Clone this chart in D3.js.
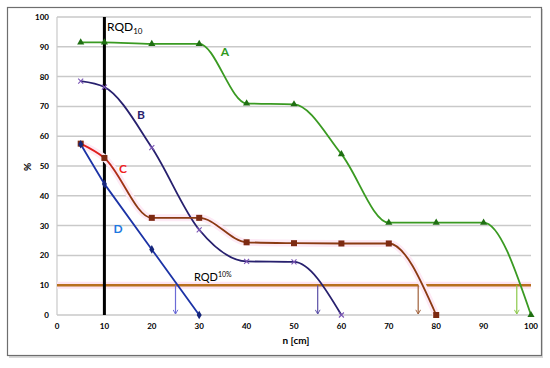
<!doctype html>
<html>
<head>
<style>
  body { margin: 0; background: #fff; }
  text { font-family: Lato, "Open Sans", sans-serif; }
</style>
<script src="https://d3js.org/d3.v7.min.js"></script>
</head>
<body>
<div id="chart"></div>
<script>
// data
var nA = [5, 10, 20, 30, 40, 50, 60, 70, 80, 90, 100];
var valA = [91.5, 91.5, 91, 91, 71, 70.7, 54, 31, 31, 31, 0];
var nB = [5, 10, 20, 30, 40, 50, 60];
var valB = [78.5, 76.5, 56.2, 28.6, 18, 17.8, 0];
var nC = [5, 10, 20, 30, 40, 50, 60, 70, 80];
var valC = [57.5, 52.7, 32.6, 32.6, 24.4, 24.1, 24, 24, 0];
var nD = [5, 10, 20, 30];
var valD = [57.3, 44, 22, 0];
var xTicks = [0, 10, 20, 30, 40, 50, 60, 70, 80, 90, 100];
var yTicks = [0, 10, 20, 30, 40, 50, 60, 70, 80, 90, 100];
var rqdLine = 10;        // vertical RQD10 line at n = 10
var threshold = 10;      // RQD 10% horizontal line
var crossings = [25, 55, 76.2, 97];

var W = 550, H = 368;
var svg = d3.select("#chart").append("svg")
    .attr("width", W)
    .attr("height", H);

// outer frame with slight shadow
svg.append("rect")
    .attr("x", 9).attr("y", 9).attr("width", 534).attr("height", 349)
    .attr("fill", "#d8d8d8");
svg.append("rect")
    .attr("x", 7.5).attr("y", 7.5).attr("width", 534).attr("height", 348)
    .attr("fill", "#fff").attr("stroke", "#6e6e6e").attr("stroke-width", 1.2);

var x = d3.scaleLinear().domain([0, 100]).range([57, 531]);
var y = d3.scaleLinear().domain([0, 100]).range([315, 17]);

var defs = svg.append("defs");
function arrowMarker(id, color) {
    defs.append("marker")
        .attr("id", id)
        .attr("viewBox", "0 0 10 10")
        .attr("refX", 9).attr("refY", 5)
        .attr("markerWidth", 6).attr("markerHeight", 6)
        .attr("markerUnits", "userSpaceOnUse")
        .attr("orient", "auto")
        .append("path")
        .attr("d", "M2,1 L9,5 L2,9")
        .attr("fill", "none")
        .attr("stroke", color)
        .attr("stroke-width", 1.6);
}
var grad = defs.append("linearGradient")
    .attr("id", "gradC")
    .attr("gradientUnits", "userSpaceOnUse")
    .attr("x1", x(8)).attr("x2", x(16)).attr("y1", 0).attr("y2", 0);
grad.append("stop").attr("offset", "0").attr("stop-color", "#e31d1d");
grad.append("stop").attr("offset", "1").attr("stop-color", "#8a3a12");

// gridlines
svg.append("g")
    .selectAll("line")
    .data(yTicks)
    .join("line")
    .attr("x1", x(0)).attr("x2", x(100))
    .attr("y1", d => y(d)).attr("y2", d => y(d))
    .attr("stroke", "#c9c9c9")
    .attr("stroke-width", 1.5);
svg.append("line")
    .attr("x1", x(0)).attr("x2", x(0))
    .attr("y1", y(0)).attr("y2", y(100))
    .attr("stroke", "#c9c9c9").attr("stroke-width", 1.2);

// tick labels
svg.append("g")
    .selectAll("text")
    .data(yTicks)
    .join("text")
    .attr("x", 49)
    .attr("y", d => y(d) + 3)
    .attr("text-anchor", "end")
    .attr("font-size", "8px")
    .attr("font-weight", "bold")
    .text(d => d);
svg.append("g")
    .selectAll("text")
    .data(xTicks)
    .join("text")
    .attr("x", d => x(d))
    .attr("y", 329)
    .attr("text-anchor", "middle")
    .attr("font-size", "8px")
    .attr("font-weight", "bold")
    .text(d => d);

svg.append("text")
    .attr("transform", "translate(31, 167) rotate(-90)")
    .attr("text-anchor", "middle")
    .attr("font-size", "10px")
    .attr("font-weight", "bold")
    .text("%");
svg.append("text")
    .attr("x", 296).attr("y", 344)
    .attr("text-anchor", "middle")
    .attr("font-size", "10px")
    .attr("font-weight", "bold")
    .text("n [cm]");

// RQD 10% horizontal line with pink glow
svg.append("line")
    .attr("x1", x(0)).attr("x2", x(100))
    .attr("y1", y(threshold)).attr("y2", y(threshold))
    .attr("stroke", "#fde4f3").attr("stroke-width", 7);
svg.append("line")
    .attr("x1", x(0)).attr("x2", x(100))
    .attr("y1", y(threshold)).attr("y2", y(threshold))
    .attr("stroke", "#b8701e").attr("stroke-width", 2.6);

// vertical RQD10 line
svg.append("line")
    .attr("x1", x(rqdLine)).attr("x2", x(rqdLine))
    .attr("y1", y(100)).attr("y2", y(0))
    .attr("stroke", "#000").attr("stroke-width", 3);

var rqdLabel = svg.append("text")
    .attr("x", 107).attr("y", 31)
    .attr("font-size", "12px");
rqdLabel.append("tspan").text("RQD");
rqdLabel.append("tspan").attr("font-size", "8px").attr("dy", 3).text("10");

var rqd2 = svg.append("text")
    .attr("x", 194).attr("y", 281)
    .attr("font-size", "11px");
rqd2.append("tspan").text("RQD");
rqd2.append("tspan").attr("font-size", "7px").attr("dy", -4).text("10%");

// arrows from threshold down to axis
var arrowColors = ["#6b6bd6", "#5a4fa6", "#a0603a", "#8cc84a"];
crossings.forEach(function (c, i) {
    arrowMarker("arr" + i, arrowColors[i]);
    svg.append("line")
        .attr("x1", x(c)).attr("x2", x(c))
        .attr("y1", y(threshold)).attr("y2", y(0) - 1)
        .attr("stroke", arrowColors[i])
        .attr("stroke-width", 1.2)
        .attr("marker-end", "url(#arr" + i + ")");
});

var smooth = d3.line().x(d => x(d[0])).y(d => y(d[1])).curve(d3.curveMonotoneX);
var straight = d3.line().x(d => x(d[0])).y(d => y(d[1]));

var ptsA = d3.zip(nA, valA);
var ptsB = d3.zip(nB, valB);
var ptsC = d3.zip(nC, valC);
var ptsD = d3.zip(nD, valD);

// C: faint pink glow behind
svg.append("path").attr("d", smooth(ptsC))
    .attr("fill", "none").attr("stroke", "#fdeaf5").attr("stroke-width", 7);

// lines
svg.append("path").attr("d", smooth(ptsA))
    .attr("fill", "none").attr("stroke", "#3a9a22").attr("stroke-width", 1.8);
svg.append("path").attr("d", smooth(ptsB))
    .attr("fill", "none").attr("stroke", "#27206e").attr("stroke-width", 1.8);
svg.append("path").attr("d", smooth(ptsC))
    .attr("fill", "none").attr("stroke", "url(#gradC)").attr("stroke-width", 1.8);
svg.append("path").attr("d", straight(ptsD))
    .attr("fill", "none").attr("stroke", "#1c33a6").attr("stroke-width", 1.8);

// markers
svg.append("g").selectAll("path")
    .data(ptsA).join("path")
    .attr("transform", d => "translate(" + x(d[0]) + "," + y(d[1]) + ")")
    .attr("d", d3.symbol(d3.symbolTriangle, 22))
    .attr("fill", "#1f6f12");
svg.append("g").selectAll("path")
    .data(ptsB).join("path")
    .attr("transform", d => "translate(" + x(d[0]) + "," + y(d[1]) + ")")
    .attr("d", "M-2.5,-2.5L2.5,2.5M-2.5,2.5L2.5,-2.5")
    .attr("stroke", "#7a55b5").attr("stroke-width", 1.1);
svg.append("g").selectAll("rect")
    .data(ptsC).join("rect")
    .attr("x", d => x(d[0]) - 3).attr("y", d => y(d[1]) - 3)
    .attr("width", 6).attr("height", 6)
    .attr("fill", "#7c2a12");
svg.append("g").selectAll("path")
    .data(ptsD).join("path")
    .attr("transform", d => "translate(" + x(d[0]) + "," + y(d[1]) + ")")
    .attr("d", d3.symbol(d3.symbolDiamond, 22))
    .attr("fill", "#15257a");

// series labels
var labels = [
    { t: "A", x: 225, y: 56, c: "#2f9a1c" },
    { t: "B", x: 141, y: 119, c: "#2a1f6e" },
    { t: "C", x: 123, y: 173, c: "#f01e1e" },
    { t: "D", x: 118, y: 233, c: "#1e78e0" }
];
svg.append("g").selectAll("text")
    .data(labels).join("text")
    .attr("x", d => d.x).attr("y", d => d.y)
    .attr("text-anchor", "middle")
    .attr("font-size", "12px")
    .attr("font-weight", "bold")
    .attr("fill", d => d.c)
    .text(d => d.t);
</script>
</body>
</html>
